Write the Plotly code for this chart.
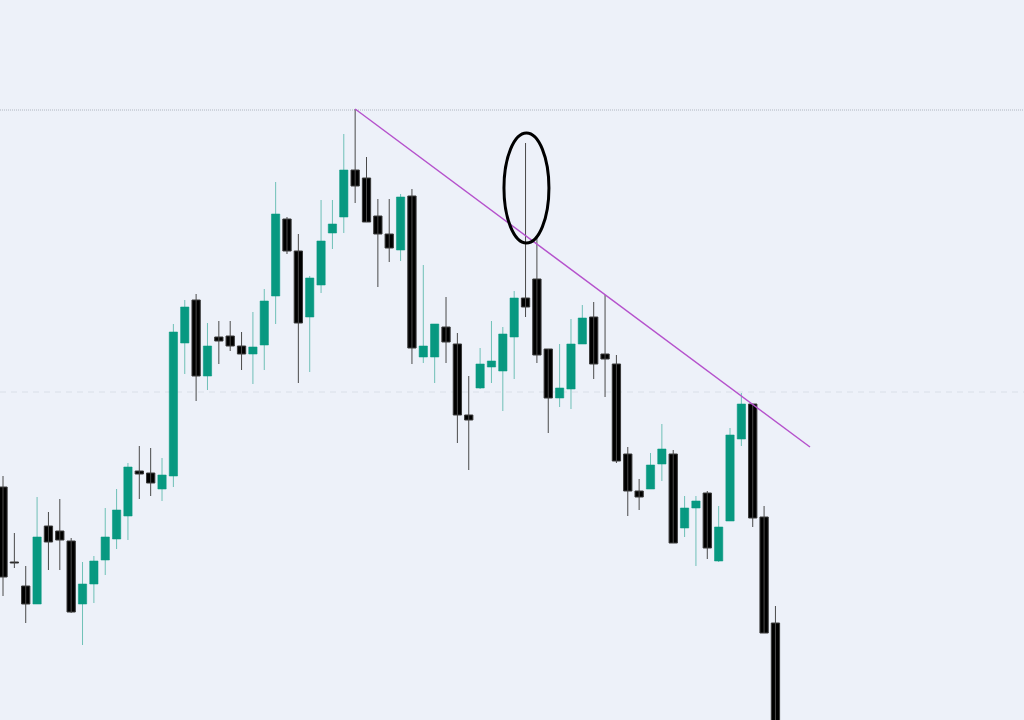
import plotly.graph_objects as go

# Candle index (time order)
idx = list(range(69))

open_ = [23.3, 15.8, 13.4, 11.6, 19.4, 18.9, 17.9, 11.6, 13.6, 16.0,
         18.1, 20.4, 24.9, 24.7, 23.1, 24.4, 37.7, 42.0, 34.4, 38.3,
         38.4, 37.4, 36.6, 37.5, 42.4, 50.1, 46.9, 40.3, 43.5, 48.7,
         50.3, 55.0, 54.2, 50.4, 48.6, 47.0, 52.4, 36.3, 36.3, 39.3,
         37.6, 30.5, 33.2, 35.3, 34.9, 38.3, 42.2, 44.1, 37.1, 32.2,
         33.1, 37.6, 40.3, 36.6, 35.6, 26.6, 22.9, 23.1, 25.6, 26.6,
         19.2, 21.2, 22.7, 15.9, 19.9, 28.1, 31.6, 20.3, 9.7]
high = [24.4, 18.7, 15.4, 22.3, 20.8, 22.1, 18.2, 15.8, 16.4, 21.2,
        23.1, 25.7, 27.4, 27.2, 26.2, 39.6, 42.0, 42.6, 39.7, 39.9,
        39.9, 38.8, 40.8, 43.1, 53.8, 50.3, 48.6, 44.4, 52.0, 52.0,
        58.6, 61.1, 56.3, 52.1, 52.1, 52.6, 53.1, 45.5, 39.6, 42.3,
        38.7, 34.4, 37.2, 39.9, 39.3, 42.9, 57.7, 48.2, 37.1, 37.6,
        40.1, 41.5, 41.8, 42.5, 36.5, 27.3, 24.1, 26.7, 29.6, 27.0,
        22.4, 22.4, 22.9, 21.4, 29.2, 32.7, 31.6, 21.4, 11.4]
low = [12.4, 15.2, 9.7, 11.6, 15.0, 15.0, 10.7, 7.5, 11.7, 14.5,
       17.1, 18.0, 22.1, 22.4, 21.9, 23.3, 34.6, 31.9, 33.0, 35.6,
       36.9, 35.0, 33.6, 35.0, 39.6, 46.6, 33.7, 34.8, 42.7, 47.1,
       48.7, 51.7, 49.8, 43.3, 45.8, 45.9, 35.6, 35.7, 33.7, 35.7,
       27.7, 25.0, 33.1, 33.7, 30.9, 34.1, 40.3, 35.7, 28.7, 31.3,
       31.1, 37.6, 34.1, 32.3, 25.7, 20.4, 21.0, 23.1, 23.9, 17.7,
       18.3, 15.4, 16.1, 15.8, 19.9, 27.4, 19.3, 8.7, -8.0]
close = [14.3, 15.7, 11.6, 18.3, 17.8, 18.0, 10.8, 13.6, 15.9, 18.3,
         21.0, 25.3, 24.6, 23.7, 24.5, 38.8, 41.3, 34.4, 37.4, 37.9,
         37.4, 36.6, 37.3, 41.9, 50.6, 46.9, 39.7, 44.2, 47.9, 49.6,
         55.0, 53.4, 49.8, 48.6, 47.2, 52.3, 37.2, 37.4, 39.6, 37.8,
         30.5, 30.0, 35.6, 35.9, 38.6, 42.2, 41.3, 36.5, 32.2, 33.2,
         37.6, 40.2, 35.6, 36.1, 25.9, 22.9, 22.3, 25.5, 27.1, 17.7,
         21.2, 21.9, 17.2, 19.3, 28.5, 31.6, 20.2, 8.7, -7.0]

# Annotation levels
resistance_level = 61.0
support_level = 32.8
trend_start = (31, 61.1)
trend_end = (71.04, 27.3)
circle_center = (46.08, 53.2)
circle_half = (1.98, 5.5)

BG = "#EDF1F9"
GREEN = "#089981"
GREEN_WICK = "rgba(8,153,129,0.55)"
BLACK = "#000000"
BLACK_WICK = "#4a4a4a"
BODY_WIDTH = 0.73

fig = go.Figure()

for is_up, body_color, wick_color in [(True, GREEN, GREEN_WICK), (False, BLACK, BLACK_WICK)]:
    sel = [i for i in idx if (close[i] >= open_[i]) == is_up]
    wx, wy = [], []
    for i in sel:
        wx += [i, i, None]
        wy += [low[i], high[i], None]
    fig.add_trace(go.Scatter(x=wx, y=wy, mode="lines",
                             line=dict(color=wick_color, width=1),
                             hoverinfo="skip", showlegend=False))

for is_up, body_color, edge_color in [(True, GREEN, GREEN_WICK), (False, BLACK, "#3a3a3a")]:
    sel = [i for i in idx if (close[i] >= open_[i]) == is_up]
    fig.add_trace(go.Bar(
        x=sel,
        base=[min(open_[i], close[i]) for i in sel],
        y=[abs(close[i] - open_[i]) for i in sel],
        width=BODY_WIDTH,
        marker=dict(color=body_color, line=dict(color=edge_color, width=1)),
        hoverinfo="skip", showlegend=False,
    ))

shapes = [
    dict(type="line", xref="paper", x0=0, x1=1, yref="y", y0=resistance_level, y1=resistance_level,
         line=dict(color="#B0B6C0", width=1, dash="1px,1px"), layer="below"),
    dict(type="line", xref="paper", x0=0, x1=1, yref="y", y0=support_level, y1=support_level,
         line=dict(color="#D9DFE8", width=1, dash="6px,5px"), layer="below"),
    dict(type="line", xref="x", yref="y", x0=trend_start[0], y0=trend_start[1],
         x1=trend_end[0], y1=trend_end[1], line=dict(color="#B552CC", width=1.5)),
    dict(type="circle", xref="x", yref="y",
         x0=circle_center[0] - circle_half[0], x1=circle_center[0] + circle_half[0],
         y0=circle_center[1] - circle_half[1], y1=circle_center[1] + circle_half[1],
         line=dict(color="#000000", width=3)),
]

fig.update_layout(
    width=1024, height=720,
    margin=dict(l=0, r=0, t=0, b=0),
    paper_bgcolor=BG, plot_bgcolor=BG,
    barmode="overlay",
    shapes=shapes,
    xaxis=dict(range=[-0.264, 89.88], visible=False, showgrid=False, zeroline=False),
    yaxis=dict(range=[0, 72], visible=False, showgrid=False, zeroline=False),
)

fig.write_html(
    "out.html",
    config={"displayModeBar": False},
    post_script="document.body.style.margin='0';document.body.style.overflow='hidden';",
)
